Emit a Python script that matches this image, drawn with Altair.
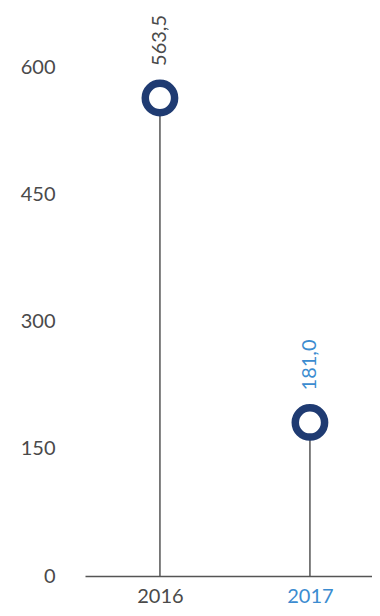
import altair as alt
import pandas as pd

years = ["2016", "2017"]
values = [563.5, 181.0]
labels = ["563,5", "181,0"]
label_colors = ["#4a4a4a", "#3b8cd0"]

df = pd.DataFrame({"year": years, "value": values, "label": labels, "lc": label_colors})

FONT = "Lato"
NAVY = "#1f3b72"
GREY = "#4a4a4a"
BLUE = "#3b8cd0"

x = alt.X("year:N", sort=years,
          scale=alt.Scale(type="point", padding=0.4567, align=0.547),
          axis=alt.Axis(title=None, labelAngle=0, ticks=False, domain=True,
                        domainColor="#555555", domainWidth=1.5,
                        labelFont=FONT, labelFontSize=20, labelPadding=10,
                        labelColor={"condition": {"test": "datum.value == '2017'", "value": BLUE},
                                    "value": GREY}))
y = alt.Y("value:Q", scale=alt.Scale(domain=[0, 600], nice=False),
          axis=alt.Axis(title=None, values=[0, 150, 300, 450, 600], ticks=False,
                        domain=False, grid=False, labelFont=FONT, labelFontSize=20,
                        labelColor=GREY, labelPadding=30))

base = alt.Chart(df)

stems = base.mark_rule(color="#555555", strokeWidth=1.5).encode(
    x=x, y=y, y2=alt.datum(0))

dots = base.mark_point(shape="circle", filled=True, fill="white", stroke=NAVY,
                       strokeWidth=7.5, size=860, opacity=1).encode(x=x, y=y)

texts = base.mark_text(angle=270, align="left", baseline="middle", dx=32,
                       font=FONT, fontSize=20).encode(
    x=x, y=y, text="label:N", color=alt.Color("lc:N", scale=None))

chart = (stems + dots + texts).properties(
    width=287, height=509,
    autosize=alt.AutoSizeParams(type="none"),
    padding={"left": 77, "top": 59, "right": 0, "bottom": 32},
).configure_view(stroke=None)

chart.save("out.html", embed_options={"renderer": "svg", "actions": False})
